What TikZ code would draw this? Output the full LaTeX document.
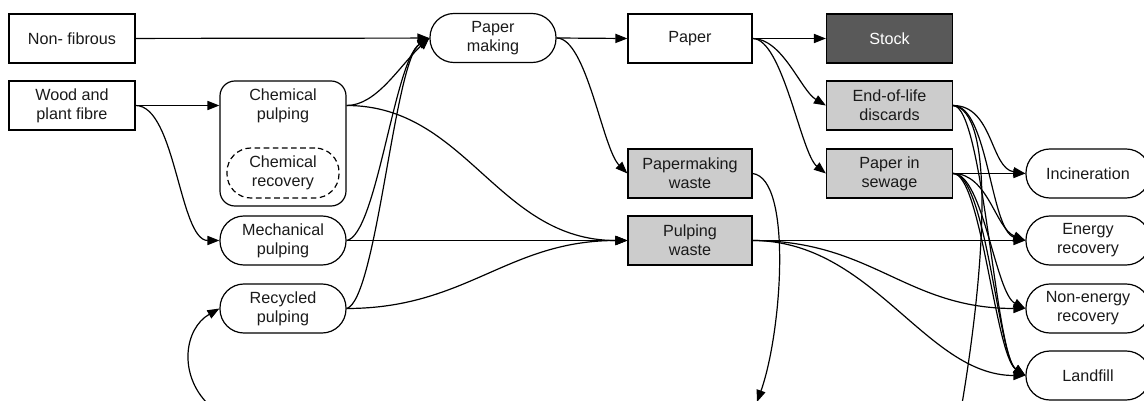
\documentclass[tikz,border=0pt]{standalone}
\usepackage{fontspec}
\setmainfont{Liberation Sans}
\usetikzlibrary{arrows.meta}

\definecolor{wastegrey}{HTML}{CCCCCC}
\definecolor{stockgrey}{HTML}{595959}
\definecolor{inkgrey}{HTML}{1A1A1A}

\begin{document}
\begin{tikzpicture}[x=0.025cm, y=-0.025cm, >={Triangle[length=8.5pt,width=6.5pt]},
		font=\fontsize{11.5}{13.5}\selectfont, line width=0.85pt, text=inkgrey,
		plainbox/.style={draw, align=center, minimum width=3.15cm, minimum height=1.225cm, inner sep=0pt},
		wastebox/.style={plainbox, fill=wastegrey},
		stockbox/.style={plainbox, fill=stockgrey, text=white},
		procnode/.style={plainbox, rounded corners=0.6cm}]
		\useasboundingbox (0,0) rectangle (1144,401);
		% inputs and pulping
		\node[plainbox] (nonfib) at (72,38.5) {Non- fibrous};
		\node[plainbox] (wood) at (72,105.5) {Wood and\\plant fibre};
		\node[draw, rounded corners=0.375cm, minimum width=3.15cm, minimum height=3.125cm] (chembox) at (283,143.5) {};
		\node[align=center, minimum width=3.15cm, minimum height=1.225cm, inner sep=0pt] (chem) at (283,105.5) {Chemical\\pulping};
		\node[procnode, dashed, dash pattern=on 4pt off 2.5pt, minimum width=2.8cm, minimum height=1.25cm] (chemrec) at (283,173) {Chemical\\recovery};
		\node[procnode] (mech) at (283,240.5) {Mechanical\\pulping};
		\node[procnode] (recyc) at (283,308.5) {Recycled\\pulping};
		% making and products
		\node[procnode] (papmak) at (493,38) {Paper\\making};
		\node[plainbox, minimum width=3.1cm] (paper) at (690,38.5) {Paper};
		\node[stockbox] (stock) at (889.5,38.5) {Stock};
		\node[wastebox] (eol) at (889.5,105.5) {End-of-life\\discards};
		\node[wastebox, minimum width=3.1cm] (pmwaste) at (690,173.5) {Papermaking\\waste};
		\node[wastebox] (sewage) at (889.5,173.5) {Paper in\\sewage};
		\node[wastebox, minimum width=3.1cm] (pulpwaste) at (690,240.5) {Pulping\\waste};
		% end of life
		\node[procnode, minimum width=3.1cm] (incin) at (1088,173.5) {Incineration};
		\node[procnode, minimum width=3.1cm] (energy) at (1088,240.5) {Energy\\recovery};
		\node[procnode, minimum width=3.1cm] (nonenergy) at (1088,308.5) {Non-energy\\recovery};
		\node[procnode, minimum width=3.1cm] (landfill) at (1088,375.5) {Landfill};
		\coordinate (pmbelow) at (757,402);
		\coordinate (eolbelow) at (962,404);
		\coordinate (recbelow) at (208,404);

		\draw[->] (nonfib) -- (papmak);
		\draw[->] (wood.east) -- (chem.west);
		\draw[->] (wood.east) .. controls +(40,0) and +(-40,0) .. (mech.west);
		\draw[->] (chem.east) .. controls +(30,0) and +(-30,28) .. (papmak.west);
		\draw[->] (chem.east) .. controls +(120,0) and +(-130,0) .. (pulpwaste.west);
		\draw[->] (mech.east) .. controls +(30,-5) and +(-35,22) .. (papmak.west);
		\draw[->] (mech.east) -- (pulpwaste.west);
		\draw[->] (recyc.east) .. controls +(30,-8) and +(-35,22) .. (papmak.west);
		\draw[->] (recyc.east) .. controls +(120,0) and +(-120,0) .. (pulpwaste.west);
		\draw[->] (recbelow) .. controls +(-30,-30) and +(-35,20) .. (recyc.west);

		\draw[->] (papmak.east) -- (paper.west);
		\draw[->] (papmak.east) .. controls +(30,0) and +(-25,-25) .. (pmwaste.west);
		\draw[->] (paper.east) -- (stock.west);
		\draw[->] (paper.east) .. controls +(30,0) and +(-25,-15) .. (eol.west);
		\draw[->] (paper.east) .. controls +(30,0) and +(-25,-20) .. (sewage.west);
		\draw[->] (pmwaste.east) .. controls +(40,5) and +(25,-70) .. (pmbelow);

		\draw[->] (eol.east) .. controls +(40,0) and +(-35,-5) .. (incin.west);
		\draw[->] (eol.east) .. controls +(35,0) and +(-35,-10) .. (energy.west);
		\draw[->] (eol.east) .. controls +(30,0) and +(-30,-20) .. (landfill.west);
		\draw (eol.east) .. controls +(40,5) and +(25,-150) .. (eolbelow);
		\draw[->] (sewage.east) -- (incin.west);
		\draw[->] (sewage.east) .. controls +(35,0) and +(-30,-12) .. (energy.west);
		\draw[->] (sewage.east) .. controls +(30,0) and +(-30,-15) .. (nonenergy.west);
		\draw[->] (sewage.east) .. controls +(28,0) and +(-30,-20) .. (landfill.west);
		\draw[->] (sewage.east) .. controls +(33,0) and +(-27,-18) .. (landfill.west);
		\draw[->] (pulpwaste.east) -- (energy.west);
		\draw[->] (pulpwaste.east) .. controls +(120,0) and +(-120,0) .. (nonenergy.west);
		\draw[->] (pulpwaste.east) .. controls +(120,0) and +(-100,0) .. (landfill.west);
	\end{tikzpicture}
\end{document}
